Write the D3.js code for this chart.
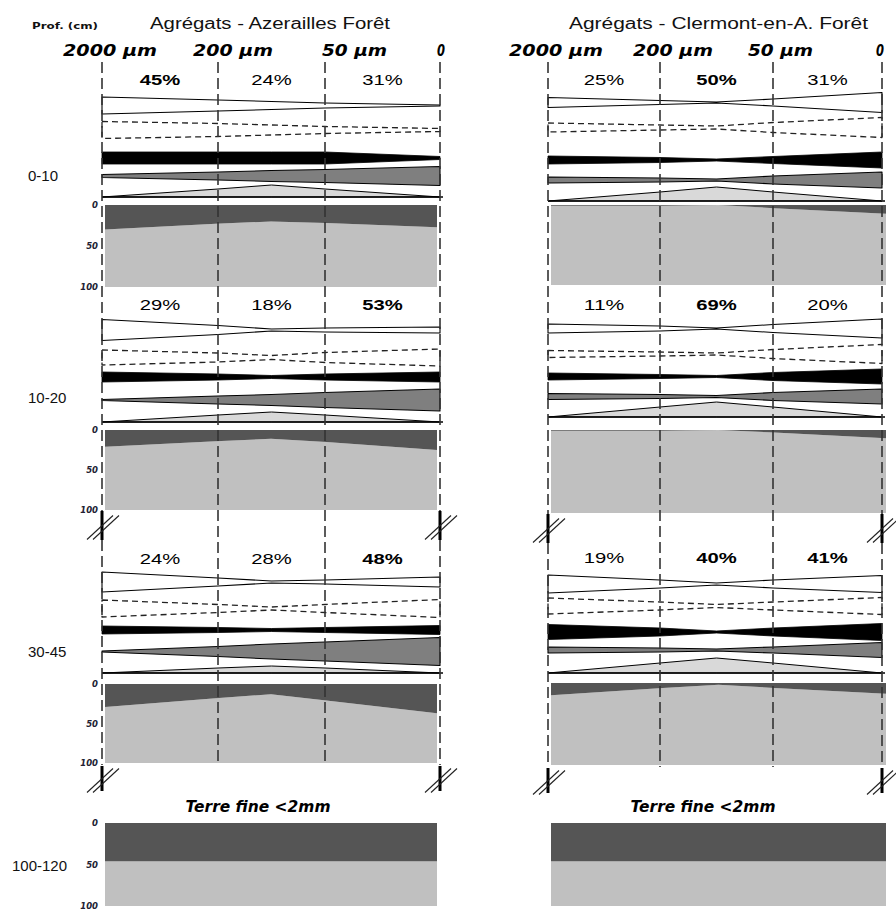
<!DOCTYPE html>
<html><head><meta charset="utf-8">
<script src="https://cdn.jsdelivr.net/npm/d3@7"></script>
<style>body{margin:0;background:#fff}svg{display:block}</style>
</head><body><svg id="c" width="896" height="914"></svg>
<script>
// ---------- DATA ----------
const siteTitles = ["Agrégats - Azerailles Forêt", "Agrégats - Clermont-en-A. Forêt"];
const depthLabels = ["0-10", "10-20", "30-45", "100-120"];
const sizeLabels = ["2000 µm", "200 µm", "50 µm", "0"];
const stations = [0, 1, 1.5, 2, 3];          // positions along the size classes
const classCenters = [0.5, 1.5, 2.5];
const areaTicks = [0, 50, 100];
const fineEarthLabel = "Terre fine <2mm";

// percentage of aggregates per size class (per depth)
const pctAzerailles = [[45, 24, 31], [29, 18, 53], [24, 28, 48]];
const pctClermont   = [[25, 50, 31], [11, 69, 20], [19, 40, 41]];

// kite widths at stations (per depth)
const whiteAz  = [[17, 11, 8, 5, 1], [21, 9, 2, 4, 6], [20, 8, 2, 4, 10]];
const dashedAz = [[17, 13, 10, 7, 3], [15, 9, 4, 10, 17], [17, 8, 3, 8, 18]];
const blackAz  = [[12, 12, 12, 12, 3], [10, 6, 3, 6, 10], [8, 5, 3, 5, 9]];
const grayAz   = [[3, 8, 11, 13, 19], [1, 8, 11, 15, 22], [1, 10, 15, 19, 28]];
const lightAz  = [[0, 8, 12, 8, 0], [0, 7, 10, 7, 0], [0, 5, 7, 5, 0]];

const whiteCl  = [[10, 4, 1, 7, 20], [9, 5, 1, 8, 19], [18, 8, 2, 8, 17]];
const dashedCl = [[9, 5, 3, 10, 20], [7, 4, 2, 9, 19], [16, 8, 3, 8, 17]];
const blackCl  = [[8, 5, 2, 7, 16], [7, 4, 2, 8, 15], [15, 8, 2, 8, 17]];
const grayCl   = [[6, 4, 2, 8, 16], [6, 4, 2, 8, 15], [6, 4, 2, 6, 15]];
const lightCl  = [[0, 9, 14, 9, 0], [0, 10, 15, 10, 0], [0, 10, 15, 10, 0]];

// dark band (% from top) of the 0-100 stacked profile
const darkAreaAz = [[30, 23, 20, 22, 27], [21, 14, 11, 15, 25], [29, 18, 13, 21, 37]];
const darkAreaCl = [[1, 1, 0, 4, 11], [1, 1, 0, 3, 10], [15, 6, 2, 6, 13]];
const fineEarthDark = [46, 46];

// ---------- LAYOUT ----------
const layout = [
  { cols: [102, 218, 325, 440], titleX: 150, titleW: 240, sizeX: [63, 193, 322, 437],
    areaX: [105, 437], fineLabelX: 258, ticks: true,
    blocks: [
      { top: 205, bot: 287, rows: [105.5, 130, 158, 176, 197] },
      { top: 430, bot: 510, rows: [330, 357.5, 377, 400, 422] },
      { top: 684, bot: 763, rows: [582, 608.5, 630, 651.5, 673] } ] },
  { cols: [548, 660, 773, 882], titleX: 569, titleW: 299, sizeX: [509, 633, 748, 876],
    areaX: [551, 886], fineLabelX: 703, ticks: false,
    blocks: [
      { top: 205, bot: 285, rows: [102.5, 127.5, 160, 180, 201] },
      { top: 430, bot: 513, rows: [328.5, 354, 376.5, 396.5, 417] },
      { top: 683, bot: 765, rows: [584, 606, 632, 650, 673] } ] }
];
const fineArea = { top: 823, bot: 906 };
const depthLabelPos = [[28, 181], [28, 403], [28, 657], [12, 871]];
const sizeLabelW = [94, 80, 65, 8];

const sites = [
  { pct: pctAzerailles, kites: [whiteAz, dashedAz, blackAz, grayAz], light: lightAz, dark: darkAreaAz },
  { pct: pctClermont,   kites: [whiteCl, dashedCl, blackCl, grayCl], light: lightCl, dark: darkAreaCl }
];
const kiteStyles = [
  { fill: "#fff", stroke: "#000", sw: 1.1, dash: null },
  { fill: "none", stroke: "#222", sw: 1.3, dash: "6,4" },
  { fill: "#000", stroke: "#000", sw: 0.8, dash: null },
  { fill: "#7f7f7f", stroke: "#000", sw: 1.1, dash: null }
];

const svg = d3.select("#c");
const width = d3.scaleLinear().domain([0, 30]).range([0, 30]);

svg.append("text").attr("x", 32).attr("y", 29).attr("textLength", 66).attr("lengthAdjust", "spacingAndGlyphs")
  .style("font", "bold 9px 'DejaVu Sans'").attr("fill", "#111").text("Prof. (cm)");

depthLabels.forEach((d, i) => {
  svg.append("text").attr("x", depthLabelPos[i][0]).attr("y", depthLabelPos[i][1])
    .style("font", "15px 'Liberation Sans', Arial").attr("fill", "#111").text(d);
});

sites.forEach((site, si) => {
  const L = layout[si];
  const g = svg.append("g");
  const x = d3.scaleLinear().domain([0, 1, 2, 3]).range(L.cols);
  const xa = d3.scaleLinear().domain([0, 3]).range(L.areaX);

  g.append("text").attr("x", L.titleX).attr("y", 29).attr("textLength", L.titleW).attr("lengthAdjust", "spacingAndGlyphs")
    .style("font", "16px 'Liberation Sans', Arial").attr("fill", "#111").text(siteTitles[si]);

  sizeLabels.forEach((s, k) => {
    g.append("text").attr("x", L.sizeX[k]).attr("y", 56).attr("textLength", sizeLabelW[k]).attr("lengthAdjust", "spacingAndGlyphs")
      .style("font", "italic bold 16px 'DejaVu Sans'").attr("fill", "#000").text(s);
  });

  L.blocks.forEach((B, bi) => {
    // stacked profile
    const y = d3.scaleLinear().domain([0, 100]).range([B.top, B.bot]);
    const pts = stations.map((s, k) => ({ s, v: site.dark[bi][k] }));
    g.append("path").datum(pts).attr("fill", "#c0c0c0")
      .attr("d", d3.area().x(d => xa(d.s)).y0(y(100)).y1(d => y(d.v)));
    g.append("path").datum(pts).attr("fill", "#555555")
      .attr("d", d3.area().x(d => xa(d.s)).y0(y(0)).y1(d => y(d.v)));
    if (L.ticks) {
      const ax = g.append("g").attr("transform", `translate(${L.cols[0] - 4},0)`)
        .call(d3.axisLeft(y).tickValues(areaTicks).tickSize(0).tickPadding(0));
      ax.select(".domain").remove();
      ax.selectAll("text").style("font", "italic bold 8.5px 'DejaVu Sans'").attr("fill", "#223");
    }

    // percentages
    classCenters.forEach((c, k) => {
      const v = site.pct[bi][k];
      const label = v + "%";
      g.append("text").attr("x", x(c)).attr("y", B.top - 120).attr("text-anchor", "middle")
        .attr("textLength", label.length * 13.5).attr("lengthAdjust", "spacingAndGlyphs")
        .style("font", (v >= 40 ? "bold " : "") + "14px 'Liberation Sans', Arial").attr("fill", "#000")
        .text(label);
    });

    // kites
    site.kites.forEach((rowData, ri) => {
      const cy = B.rows[ri];
      const st = kiteStyles[ri];
      const kp = stations.map((s, k) => ({ s, v: rowData[bi][k] }));
      g.append("path").datum(kp)
        .attr("fill", st.fill).attr("stroke", st.stroke).attr("stroke-width", st.sw)
        .attr("stroke-dasharray", st.dash).attr("stroke-linejoin", "round")
        .attr("d", d3.area().x(d => x(d.s)).y0(d => cy + width(d.v) / 2).y1(d => cy - width(d.v) / 2));
    });

    // light one-sided kite
    const base = B.rows[4];
    const lp = stations.map((s, k) => ({ s, v: site.light[bi][k] }));
    g.append("path").datum(lp).attr("fill", "#d9d9d9").attr("stroke", "#000").attr("stroke-width", 1)
      .attr("d", d3.area().x(d => x(d.s)).y0(base).y1(d => base - width(d.v)));
    g.append("line").attr("x1", x(0)).attr("x2", x(3) + 3).attr("y1", base).attr("y2", base)
      .attr("stroke", "#000").attr("stroke-width", 1.5);
  });

  // fine earth block
  const yf = d3.scaleLinear().domain([0, 100]).range([fineArea.top, fineArea.bot]);
  g.append("rect").attr("x", xa(0)).attr("width", xa(3) - xa(0)).attr("y", yf(0)).attr("height", yf(100) - yf(0)).attr("fill", "#c0c0c0");
  g.append("rect").attr("x", xa(0)).attr("width", xa(3) - xa(0)).attr("y", yf(0)).attr("height", yf(fineEarthDark[si]) - yf(0)).attr("fill", "#555555");
  if (L.ticks) {
    const ax = g.append("g").attr("transform", `translate(${L.cols[0] - 4},0)`)
      .call(d3.axisLeft(yf).tickValues(areaTicks).tickSize(0).tickPadding(0));
    ax.select(".domain").remove();
    ax.selectAll("text").style("font", "italic bold 8.5px 'DejaVu Sans'").attr("fill", "#223");
  }
  g.append("text").attr("x", L.fineLabelX).attr("y", 812).attr("text-anchor", "middle")
    .attr("textLength", 145).attr("lengthAdjust", "spacingAndGlyphs")
    .style("font", "italic bold 15px 'DejaVu Sans'").attr("fill", "#000").text(fineEarthLabel);

  // dashed column lines
  const dashed = (xx, y1, y2) => g.append("line").attr("x1", xx).attr("x2", xx).attr("y1", y1).attr("y2", y2)
    .attr("stroke", "#333").attr("stroke-width", 1.6).attr("stroke-dasharray", "11,5");
  [1, 2].forEach(k => dashed(x(k), 62, L.blocks[2].bot + 2));
  [0, 3].forEach(k => {
    dashed(x(k), 62, L.blocks[1].bot + 1);
    dashed(x(k), L.blocks[1].bot + 30, L.blocks[2].bot + 2);
  });

  // break marks
  const brk = (xx, y1, y2) => {
    g.append("line").attr("x1", xx).attr("x2", xx).attr("y1", y1).attr("y2", y2)
      .attr("stroke", "#000").attr("stroke-width", 3);
    const cy = (y1 + y2) / 2 + 2;
    [0, 6].forEach(o => g.append("line")
      .attr("x1", xx - 15 + o).attr("y1", cy + 12).attr("x2", xx + 11 + o).attr("y2", cy - 12)
      .attr("stroke", "#222").attr("stroke-width", 1.1));
  };
  [0, 3].forEach(k => {
    brk(x(k), L.blocks[1].bot + 1, L.blocks[1].bot + 30);
    brk(x(k), L.blocks[2].bot + 3, L.blocks[2].bot + 28);
  });
});
</script>
</body></html>
